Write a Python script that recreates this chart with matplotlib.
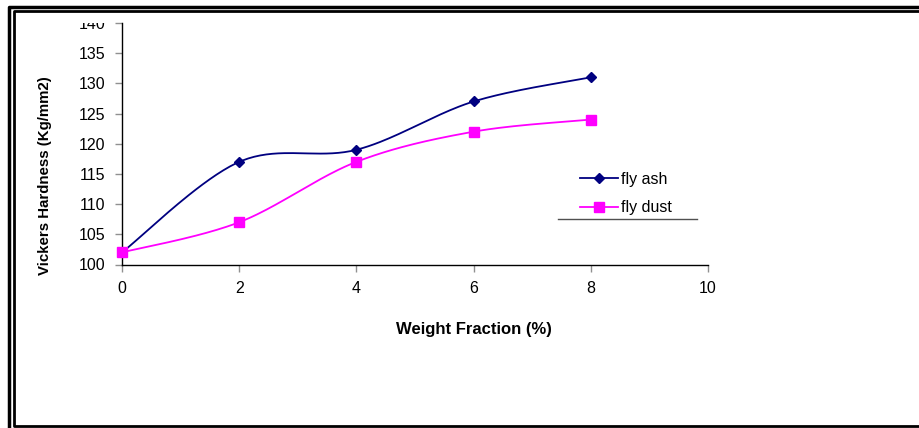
import numpy as np
import matplotlib
matplotlib.use("Agg")
import matplotlib.pyplot as plt
from matplotlib.lines import Line2D
from matplotlib.transforms import Bbox

plt.rcParams['font.family'] = ['Liberation Sans', 'DejaVu Sans']

weight_fraction = [0, 2, 4, 6, 8]
fly_ash = [102, 117, 119, 127, 131]
fly_dust = [102, 107, 117, 122, 124]
x_ticks = [0, 2, 4, 6, 8, 10]
y_ticks = [100, 105, 110, 115, 120, 125, 130, 135, 140]

W, H = 920, 428
fig = plt.figure(figsize=(W / 100, H / 100), dpi=100)


def smooth(xs, ys, n=40):
    """Cubic Bezier smoothing through the points (spreadsheet-style)."""
    p = np.column_stack([xs, ys]).astype(float)
    ext = np.vstack([p[0], p, p[-1]])
    out = []
    t = np.linspace(0, 1, n)[:, None]
    for i in range(len(p) - 1):
        p0, p3 = ext[i + 1], ext[i + 2]
        c1 = p0 + (ext[i + 2] - ext[i]) / 6
        c2 = p3 - (ext[i + 3] - ext[i + 1]) / 6
        seg = ((1 - t) ** 3) * p0 + 3 * ((1 - t) ** 2) * t * c1 + 3 * (1 - t) * t ** 2 * c2 + t ** 3 * p3
        out.append(seg if i == 0 else seg[1:])
    out = np.vstack(out)
    return out[:, 0], out[:, 1]


def fx(px):
    return px / W


def fy(py):
    return 1 - py / H


ax = fig.add_axes([fx(122), fy(264.5), fx(708) - fx(122), fy(23) - fy(264.5)])

navy = '#000080'
magenta = '#FF00FF'
sx, sy = smooth(weight_fraction, fly_ash)
ax.plot(sx, sy, color=navy, lw=1.3, clip_on=False)
ax.plot(weight_fraction, fly_ash, ls='none', marker='D', ms=5, color=navy, clip_on=False, zorder=3)
dx, dy = smooth(weight_fraction, fly_dust)
ax.plot(dx, dy, color=magenta, lw=1.3, clip_on=False)
ax.plot(weight_fraction, fly_dust, ls='none', marker='s', ms=7, color=magenta, clip_on=False, zorder=3)

ax.set_xlim(0, 10)
ax.set_ylim(100, 140)
ax.set_xticks(x_ticks)
ax.set_yticks(y_ticks)
for s in ['top', 'right']:
    ax.spines[s].set_visible(False)
for s in ['left', 'bottom']:
    ax.spines[s].set_color('black')
    ax.spines[s].set_linewidth(1.0)
ax.tick_params(axis='both', direction='out', length=5, width=1, color='#909090',
               labelsize=11.5, pad=7)

ax.set_xlabel('Weight Fraction (%)', fontsize=12, fontweight='bold', va='top')
ax.xaxis.set_label_coords(0.6, -0.238)
ax.set_ylabel('Vickers Hardness (Kg/mm2)', fontsize=10.8, fontweight='bold', va='bottom')
ax.yaxis.set_label_coords(-0.119, 0.37)

handles = [Line2D([], [], color=navy, marker='D', ms=5, lw=1.3),
           Line2D([], [], color=magenta, marker='s', ms=7, lw=1.3)]
leg = fig.legend(handles, ['fly ash', 'fly dust'], loc='upper left',
                 bbox_to_anchor=(fx(575), fy(167)), frameon=False, fontsize=11.5,
                 handlelength=2.4, handletextpad=0.2, labelspacing=0.85,
                 borderaxespad=0, borderpad=0.3)

fig.add_artist(Line2D([fx(558), fx(697)], [fy(219), fy(219)], color='#505050', lw=1))

# double border around the chart area
fig.add_artist(Line2D([fx(8.5), fx(8.5), fx(925)], [fy(440), fy(7), fy(7)], color='black', lw=2.5))
fig.add_artist(Line2D([fx(925), fx(14), fx(14), fx(925)], [fy(11), fy(11), fy(425.5), fy(425.5)],
                      color='black', lw=2))

fig.canvas.draw()
clip = Bbox.from_extents(0, 0, W, H - 23)
for lab in ax.get_yticklabels():
    lab.set_clip_box(clip)
    lab.set_clip_on(True)

fig.savefig('out.png', dpi=100)
